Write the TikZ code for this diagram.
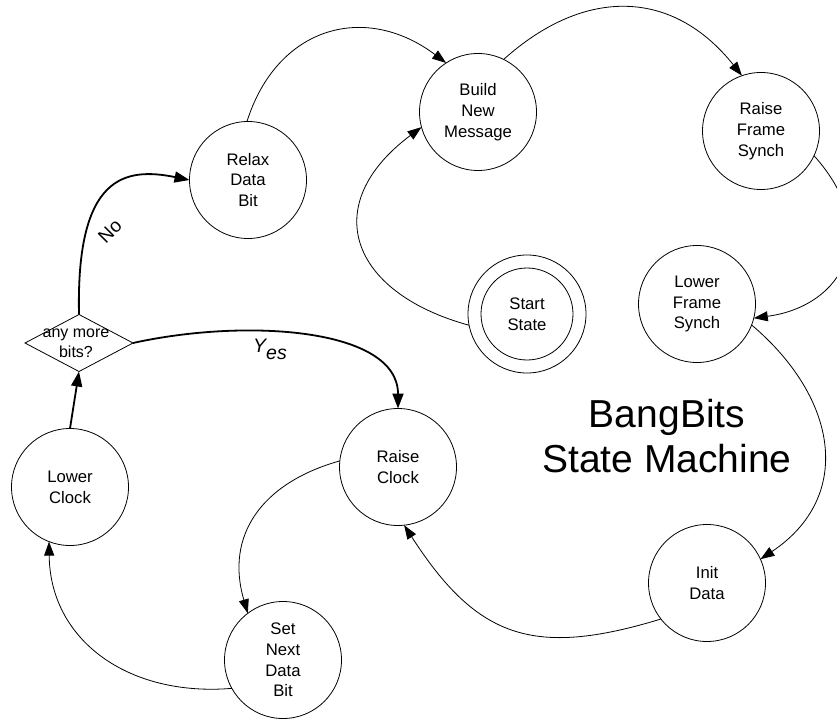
\documentclass[tikz,border=0pt]{standalone}
\usepackage{fontspec}
\setmainfont{Liberation Sans}
\usetikzlibrary{arrows.meta,shapes.geometric}
\begin{document}
\begin{tikzpicture}[x=1pt,y=-1pt,
  state/.style={circle,draw,line width=0.8pt,minimum size=117pt,inner sep=0pt,outer sep=0pt,
    align=center,font=\fontsize{16.7}{20.7}\selectfont},
  edge/.style={line width=0.8pt,-{Triangle[length=14pt,width=10pt]}},
  thickedge/.style={line width=1.8pt,-{Triangle[length=15pt,width=11pt]}},
  lbl/.style={font=\fontsize{19}{22}\selectfont,inner sep=0pt}]
\useasboundingbox (0,0) rectangle (837,719);

% states
\node[state] (relax)  at (248,180) {Relax\\Data\\Bit};
\node[state] (build)  at (478,112) {Build\\New\\Message};
\node[state] (rfs)    at (761,131) {Raise\\Frame\\Synch};
\node[state] (lfs)    at (697,304) {Lower\\Frame\\Synch};
\node[state,minimum size=118pt] (start) at (527,314) {Start\\State};
\draw[line width=0.8pt] (start.center) circle[radius=46pt];
\node[state] (rclock) at (398,467) {Raise\\Clock};
\node[state] (init)   at (707,583) {Init\\Data};
\node[state] (lclock) at (70,487)  {Lower\\Clock};
\node[state] (setbit) at (283,660) {Set\\Next\\Data\\Bit};

% decision
\node[diamond,draw,line width=0.8pt,minimum width=108pt,minimum height=57pt,
  inner sep=0pt,outer sep=0pt,
  label={[font=\fontsize{16}{20}\selectfont,align=center,xshift=-3pt]center:any more\\bits?}]
  (dec) at (79,343) {};

% title
\node[font=\fontsize{39}{45}\selectfont,align=center] (title) at (667,436) {BangBits\\State Machine};

% transitions
\draw[edge] (relax.91) .. controls (277,26.5) and (365,2) .. (build.123);
\draw[edge] (build.64) .. controls (585,-13.6) and (673,-11) .. (rfs.109);
\draw[edge] (rfs.-25) .. controls (883,232.5) and (844,306) .. (lfs.-14);
\draw[edge] (lfs.-21) .. controls (838.5,398.6) and (853.5,497) .. (init.24);
\draw[edge] (init.218) .. controls (533,658) and (477,638) .. (rclock.-84);
\draw[edge] (rclock.174) .. controls (261,483) and (225,536) .. (setbit.127);
\draw[edge] (setbit.209) .. controls (128,697) and (50,640) .. (lclock.249);
\draw[edge] (start.191) .. controls (349.7,292.6) and (318,204.6) .. (build.195);
\draw[thickedge] (lclock.north) -- (dec.south);
\draw[thickedge] (dec.north) .. controls (76,175) and (125,167) .. (relax.west);
\draw[thickedge] (dec.east) .. controls (246,318) and (398,328) .. (rclock.north);

% branch labels
\node[lbl,rotate=45] (nolbl) at (110,231) {No};
\node[lbl,font=\fontsize{19.5}{22}\selectfont\itshape] (yeslbl) at (270,349) {Y\raisebox{-7pt}{es}};
\end{tikzpicture}
\end{document}
